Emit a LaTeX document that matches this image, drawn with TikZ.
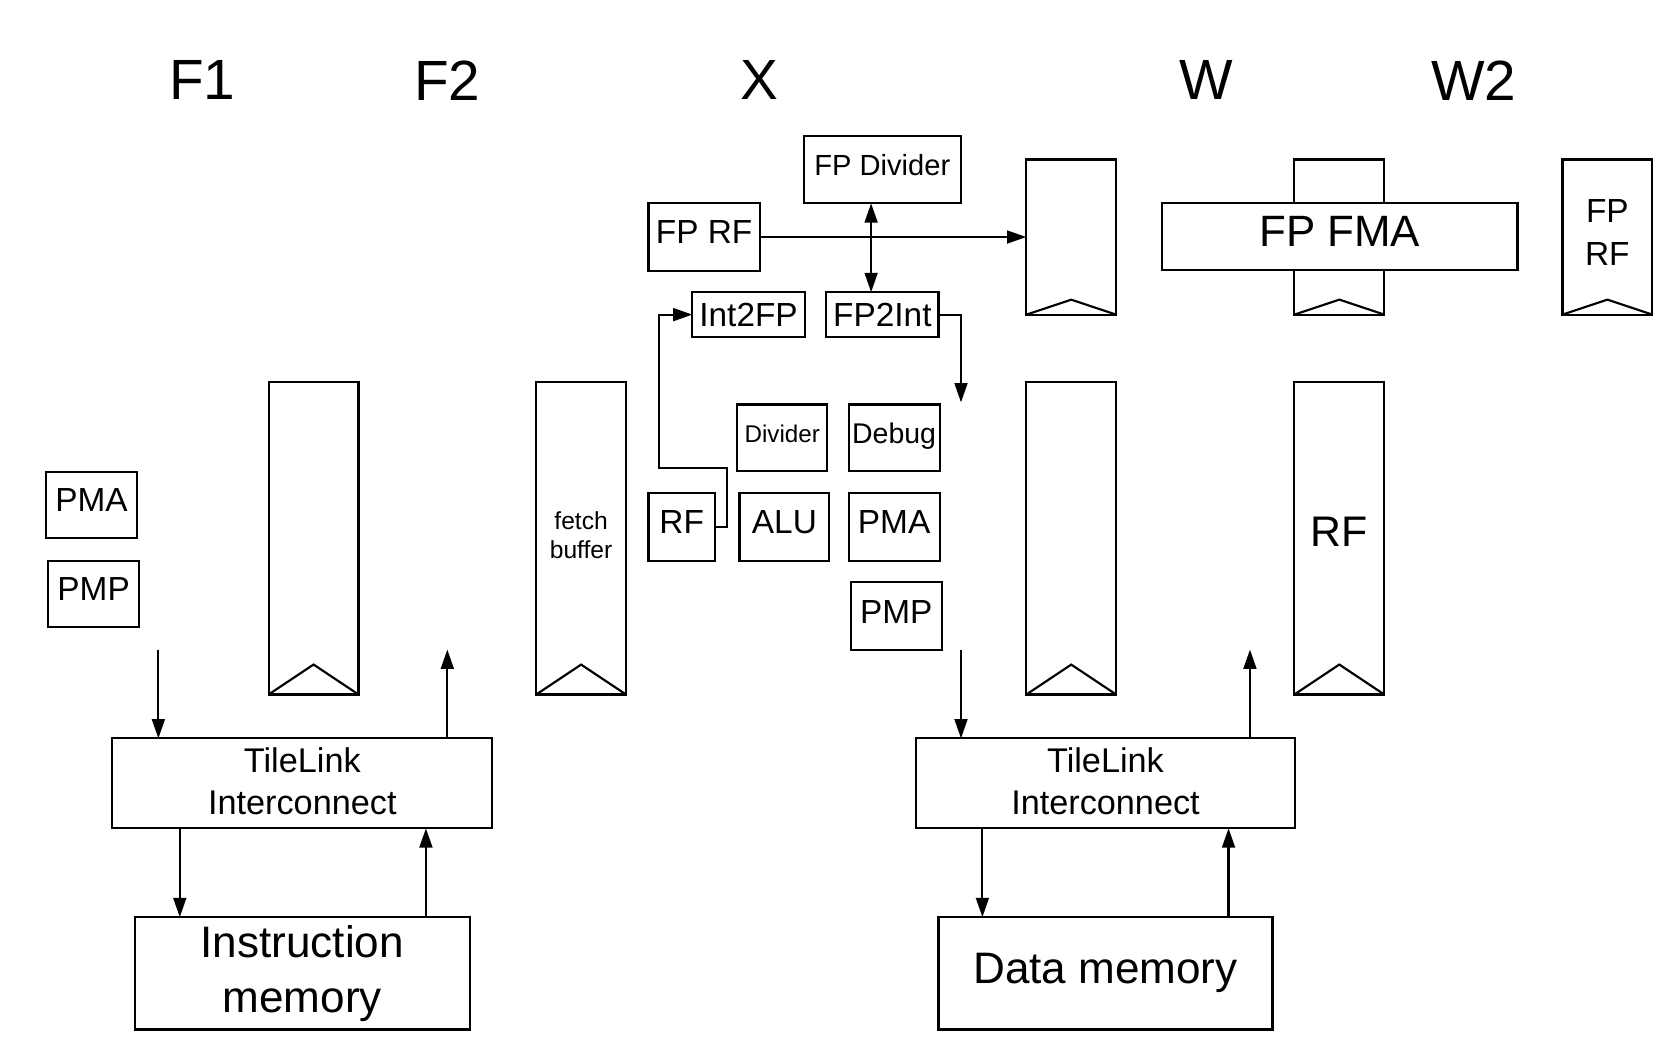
\documentclass[tikz,border=0pt]{standalone}
\usepackage{fontspec}
\setmainfont{Liberation Sans}
\usetikzlibrary{arrows.meta}
\begin{document}
\begin{tikzpicture}[x=0.5pt,y=-0.5pt,
  sz/.style 2 args={minimum width=#1*0.5pt, minimum height=#2*0.5pt},
  box/.style={draw, line width=1pt, inner sep=0pt, outer sep=0pt, align=center, fill=white},
  reg/.style={draw, line width=1pt, inner sep=0pt, outer sep=0pt, align=center, fill=white},
  lift/.style={text depth=#1},
  chev/.style={line width=1pt},
  arr/.style={line width=1pt, -{Triangle[length=9pt,width=6pt]}},
  arrb/.style={line width=1pt, {Triangle[length=9pt,width=6pt]}-{Triangle[length=9pt,width=6pt]}},
  ttl/.style={font=\fontsize{26.5}{30}\selectfont},
  fn/.style={font=\fontsize{15.6}{20}\selectfont},
  fnbig/.style={font=\fontsize{20.6}{25.5}\selectfont},
  fnmid/.style={font=\fontsize{16}{19.5}\selectfont}
]
\path[use as bounding box] (0,0) rectangle (1568,989);

% stage titles
\node[ttl] (tF1) at (189,75) {F1};
\node[ttl] (tF2) at (418,75) {F2};
\node[ttl] (tX) at (710,75) {X};
\node[ttl] (tW) at (1127,75) {W};
\node[ttl] (tW2) at (1377,75) {W2};

% pipeline registers
\node[reg, sz={84}{292}] (rF1) at (293,503) {};
\node[reg, sz={84}{292}, lift=3pt, font=\fontsize{11.5}{14}\selectfont] (rF2) at (543,503) {fetch\\buffer};
\node[reg, sz={84}{292}] (rX) at (1001,503) {};
\node[reg, sz={84}{292}, lift=6pt, font=\fontsize{20}{24}\selectfont] (rW) at (1251.5,503) {RF};
\node[reg, sz={84}{145}] (rXu) at (1001,221.5) {};
\node[reg, sz={84}{145}] (rWu) at (1251.5,221.5) {};
\node[reg, sz={84}{145}, lift=4pt, fn] (rW2) at (1502,221.5) {FP\\RF};
\foreach \r in {rF1,rF2,rX,rW}
  \draw[chev] (\r.south west) -- ([yshift=14pt]\r.south) -- (\r.south east);
\foreach \r in {rXu,rWu,rW2}
  \draw[chev] (\r.south west) -- ([yshift=7pt]\r.south) -- (\r.south east);

% FP FMA over the register
\node[box, sz={332}{62}, lift=5pt, font=\fontsize{20.5}{24}\selectfont] (fma) at (1252,221) {FP FMA};

% F1 units
\node[box, sz={85}{62}, lift=4.5pt, fn] (pmaF) at (85.5,472) {PMA};
\node[box, sz={85}{62}, lift=4.5pt, fn] (pmpF) at (87.5,555) {PMP};

% X units
\node[box, sz={147}{63}, lift=4.5pt, font=\fontsize{13.6}{16}\selectfont] (fpdiv) at (824.5,158.5) {FP Divider};
\node[box, sz={104}{63}, lift=4.5pt, fn] (fprf) at (658,221.5) {FP RF};
\node[box, sz={105}{42}, fn] (i2f) at (699.5,294) {Int2FP};
\node[box, sz={105}{42}, fn] (f2i) at (824.5,294) {FP2Int};
\node[box, sz={84}{62}, lift=3.5pt, font=\fontsize{11.3}{14}\selectfont] (div) at (731,409) {Divider};
\node[box, sz={85}{62}, lift=4.5pt, font=\fontsize{13.3}{16}\selectfont] (dbg) at (835.5,409) {Debug};
\node[box, sz={62}{63}, lift=4.5pt, fn] (rf) at (637,492.5) {RF};
\node[box, sz={84}{63}, lift=4.5pt, fn] (alu) at (733,492.5) {ALU};
\node[box, sz={85}{63}, lift=4.5pt, fn] (pmaX) at (835.5,492.5) {PMA};
\node[box, sz={85}{63}, lift=4pt, fn] (pmpX) at (837.5,575.5) {PMP};

% interconnects and memories
\node[box, sz={355}{84}, lift=2pt, fnmid] (tlL) at (282.5,732) {TileLink\\Interconnect};
\node[box, sz={354}{84}, lift=2pt, fnmid] (tlR) at (1033,732) {TileLink\\Interconnect};
\node[box, sz={313}{105}, fnbig] (imem) at (282.5,909.5) {Instruction\\memory};
\node[box, sz={312}{105}, fnbig] (dmem) at (1033,909.5) {Data memory};

% X connectors
\draw[arr] (fprf) -- (rXu);
\coordinate (xe) at (814,0);
\draw[arrb] (xe |- fpdiv.south) -- (xe |- f2i.north);
\coordinate (fpo) at (898,376);
\draw[arr] (f2i.east) -| (fpo);
\coordinate (k1) at (679,437);
\coordinate (k2) at (616,437);
\draw[arr] (rf.east) -| (k1) -- (k2) |- (i2f.west);

% left memory arrows
\coordinate (xa) at (148,607);
\coordinate (xb) at (418,607);
\coordinate (xc) at (168,0);
\coordinate (xd) at (398,0);
\draw[arr] (xa) -- (xa |- tlL.north);
\draw[arr] (xb |- tlL.north) -- (xb);
\draw[arr] (xc |- tlL.south) -- (xc |- imem.north);
\draw[arr] (xd |- imem.north) -- (xd |- tlL.south);

% right memory arrows
\coordinate (ya) at (898,607);
\coordinate (yb) at (1168,607);
\coordinate (yc) at (918,0);
\coordinate (yd) at (1148,0);
\draw[arr] (ya) -- (ya |- tlR.north);
\draw[arr] (yb |- tlR.north) -- (yb);
\draw[arr] (yc |- tlR.south) -- (yc |- dmem.north);
\draw[arr] (yd |- dmem.north) -- (yd |- tlR.south);
\end{tikzpicture}
\end{document}
